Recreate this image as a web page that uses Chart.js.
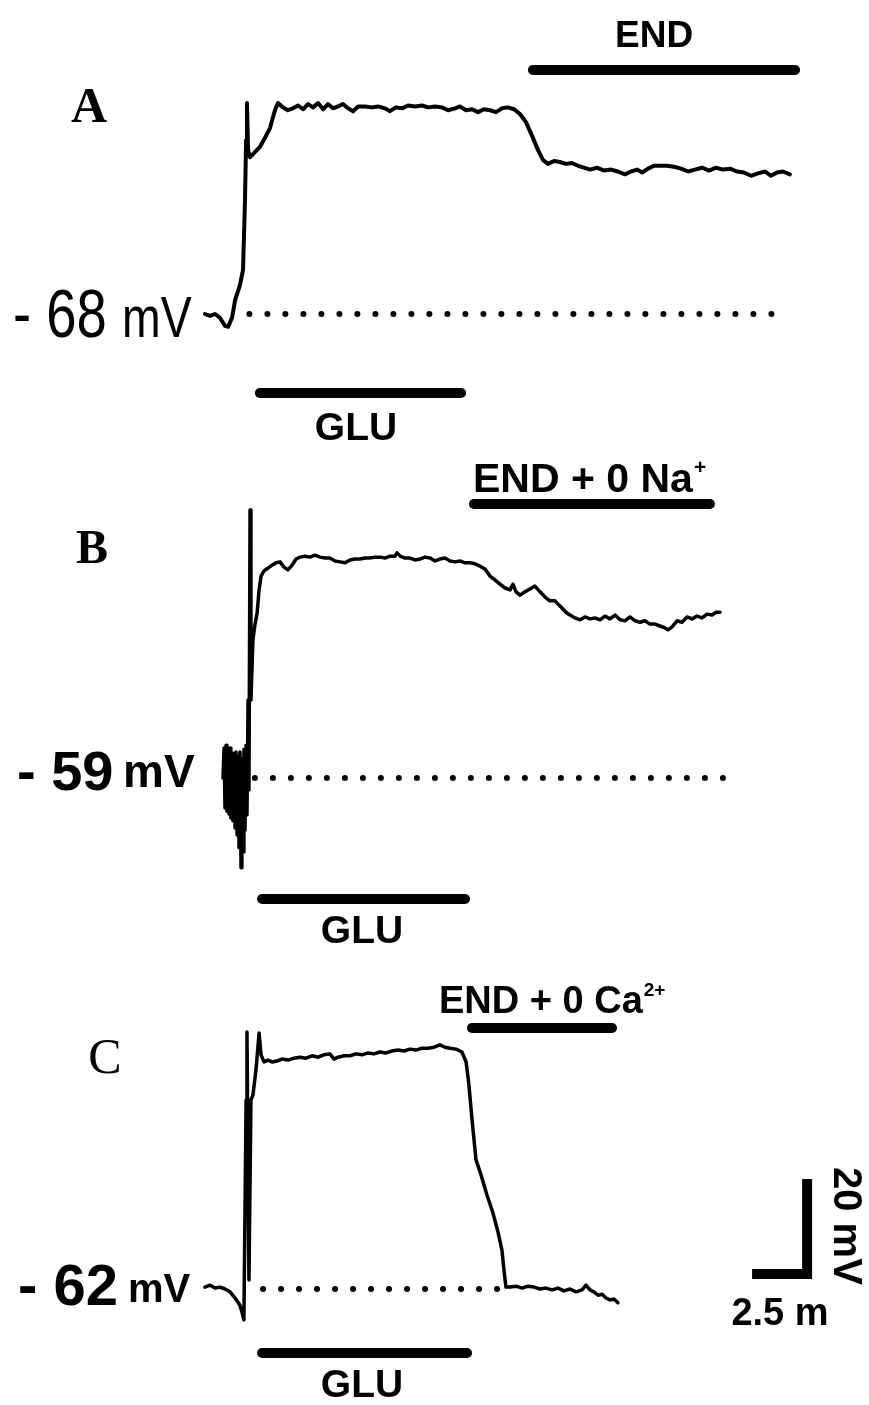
<!DOCTYPE html>
<html>
<head>
<meta charset="utf-8">
<script src="https://cdn.jsdelivr.net/npm/chart.js@4.4.1/dist/chart.umd.min.js"></script>
<style>
  body { margin: 0; background: #fff; }
  #fig { position: relative; width: 869px; height: 1405px; background: #fff; }
  #fig canvas { position: absolute; left: 0; }
</style>
</head>
<body>
<div id="fig">
  <canvas id="panel-a" width="869" height="460" style="top:0"></canvas>
  <canvas id="panel-b" width="869" height="490" style="top:460px"></canvas>
  <canvas id="panel-c" width="869" height="455" style="top:950px"></canvas>
</div>
<script>
// membrane potential traces, time in min from glutamate onset, potential in mV

const timeA = [
  -2.32, -2.09, -1.86, -1.64, -1.41, -1.27, -1.09, -0.95, -0.73, -0.59,
  -0.50, -0.45, -0.41, -0.36, -0.27, -0.05, 0.18, 0.41, 0.64, 0.86,
  1.00, 1.23, 1.45, 1.68, 1.91, 2.14, 2.36, 2.59, 2.82, 3.05,
  3.27, 3.50, 3.73, 3.95, 4.18, 4.41, 4.64, 4.95, 5.27, 5.55,
  5.86, 6.09, 6.36, 6.64, 6.91, 7.23, 7.55, 7.82, 8.14, 8.45,
  8.73, 9.05, 9.27, 9.55, 9.82, 10.09, 10.36, 10.64, 10.91, 11.18,
  11.45, 11.73, 12.00, 12.27, 12.55, 12.82, 13.05, 13.27, 13.55, 13.82,
  14.09, 14.36, 14.64, 14.91, 15.18, 15.50, 15.82, 16.14, 16.45, 16.77,
  17.05, 17.32, 17.55, 17.82, 18.09, 18.36, 18.68, 19.00, 19.32, 19.64,
  19.95, 20.27, 20.59, 20.91, 21.23, 21.55, 21.86, 22.18, 22.50, 22.82,
  23.14, 23.41, 23.68, 23.95, 24.27];
const vmA = [
  -68.0, -68.4, -68.0, -68.8, -70.5, -70.7, -68.8, -65.1, -61.9, -58.7,
  -44.0, -31.4, -23.6, -33.5, -35.0, -33.9, -32.8, -30.9, -28.8, -25.1,
  -23.6, -24.5, -25.1, -24.7, -24.1, -24.9, -23.8, -24.5, -23.6, -24.9,
  -23.8, -24.7, -24.3, -23.8, -24.7, -25.3, -24.3, -24.3, -24.5, -24.3,
  -24.7, -25.3, -24.5, -24.7, -24.1, -24.3, -24.1, -24.5, -24.3, -24.5,
  -25.1, -24.7, -24.3, -25.1, -24.9, -25.5, -24.9, -25.1, -25.5, -24.7,
  -24.5, -24.9, -25.9, -27.6, -30.5, -33.5, -35.6, -36.4, -35.8, -36.0,
  -36.4, -36.2, -36.8, -37.2, -37.6, -37.2, -37.8, -37.6, -38.0, -38.6,
  -38.0, -37.6, -38.2, -37.4, -36.8, -36.8, -36.8, -37.0, -37.4, -38.0,
  -37.6, -37.2, -37.8, -37.2, -37.6, -37.4, -38.0, -38.2, -38.9, -38.4,
  -38.0, -38.9, -38.2, -38.0, -38.6];

const timeB = [
  -1.50, -1.45, -1.41, -1.36, -1.32, -1.27, -1.23, -1.18, -1.14, -1.09,
  -1.05, -1.00, -0.95, -0.91, -0.86, -0.82, -0.77, -0.73, -0.68, -0.64,
  -0.59, -0.55, -0.50, -0.45, -0.41, -0.36, -0.32,
  -0.27, -0.23, -0.14, -0.05, 0.05, 0.14, 0.23, 0.36, 0.55,
  0.73, 0.91, 1.09, 1.27, 1.45, 1.64, 1.82, 2.00, 2.23, 2.45,
  2.68, 2.91, 3.14, 3.36, 3.59, 3.82, 4.05, 4.27, 4.50, 4.73,
  4.95, 5.18, 5.41, 5.64, 5.86, 6.09, 6.32, 6.41, 6.55, 6.77,
  7.00, 7.23, 7.45, 7.68, 7.91, 8.14, 8.36, 8.59, 8.82, 9.05,
  9.27, 9.50, 9.73, 9.95, 10.18, 10.41, 10.64, 10.86, 11.09, 11.32,
  11.55, 11.68, 11.82, 12.00, 12.23, 12.45, 12.68, 12.91, 13.14, 13.36,
  13.59, 13.73, 13.91, 14.09, 14.27, 14.50, 14.73, 14.95, 15.18, 15.41,
  15.64, 15.86, 16.09, 16.32, 16.55, 16.77, 17.00, 17.23, 17.45, 17.68,
  17.91, 18.14, 18.36, 18.59, 18.73, 18.91, 19.14, 19.36, 19.59, 19.82,
  20.05, 20.27, 20.50, 20.73, 20.91, 21.09];
const vmB = [
  -59.0, -52.7, -65.3, -52.1, -66.0, -53.1, -66.6, -52.7, -67.4, -54.0,
  -68.0, -53.8, -69.5, -53.5, -71.0, -54.4, -73.7, -53.5, -77.9, -55.0,
  -74.6, -53.0, -70.0, -52.1, -66.8, -42.6, -61.5,
  -2.6, -42.6, -29.9, -26.8, -24.3, -19.4, -16.5, -15.4, -14.8,
  -14.2, -13.7, -13.5, -14.6, -15.2, -14.2, -12.9, -12.5, -12.3, -12.5,
  -12.1, -12.5, -12.7, -12.7, -13.3, -13.5, -13.7, -13.1, -12.9, -12.9,
  -12.7, -12.7, -12.5, -12.5, -12.7, -12.3, -12.3, -11.6, -12.3, -12.7,
  -12.7, -13.1, -12.9, -12.5, -12.7, -13.3, -12.9, -12.7, -13.3, -13.5,
  -13.3, -13.7, -13.7, -13.9, -14.4, -15.0, -16.5, -17.3, -18.2, -19.0,
  -19.4, -18.2, -19.8, -20.5, -19.8, -19.2, -18.6, -19.8, -20.9, -21.7,
  -21.7, -22.4, -23.2, -24.1, -24.7, -25.3, -25.7, -25.1, -25.5, -25.3,
  -25.7, -24.9, -25.5, -24.7, -25.7, -25.9, -25.1, -25.9, -26.2, -25.9,
  -26.6, -26.6, -27.0, -27.4, -27.8, -27.2, -25.9, -26.2, -25.1, -25.5,
  -24.9, -25.3, -24.5, -24.7, -24.1, -24.1];

const timeC = [
  -2.32, -2.09, -1.86, -1.64, -1.41, -1.18, -0.95, -0.73, -0.64, -0.55,
  -0.45, -0.41, -0.32, -0.23, -0.14, 0.00, 0.14, 0.23, 0.36, 0.55,
  0.73, 0.95, 1.18, 1.45, 1.73, 2.00, 2.27, 2.55, 2.82, 3.09,
  3.36, 3.55, 3.73, 4.00, 4.27, 4.55, 4.82, 5.09, 5.36, 5.64,
  5.91, 6.18, 6.45, 6.73, 7.00, 7.27, 7.55, 7.82, 8.09, 8.36,
  8.59, 8.82, 9.09, 9.36, 9.55, 9.68, 9.82, 10.00, 10.23, 10.50,
  10.77, 11.00, 11.18, 11.27, 11.36, 11.55, 11.82, 12.09, 12.36, 12.64,
  12.91, 13.18, 13.45, 13.73, 14.00, 14.27, 14.55, 14.82, 15.00, 15.18,
  15.36, 15.55, 15.73, 15.91, 16.09, 16.27, 16.45];
const vmC = [
  -61.6, -61.2, -61.8, -61.6, -62.0, -62.6, -63.9, -65.4, -66.8, -68.5,
  -22.2, -7.9, -60.1, -22.2, -21.2, -15.9, -8.1, -12.7, -14.2, -13.8,
  -14.2, -14.0, -13.6, -13.8, -13.4, -13.2, -13.4, -12.9, -13.2, -12.7,
  -12.5, -13.6, -13.2, -12.9, -12.9, -12.5, -12.7, -12.3, -12.5, -12.1,
  -12.3, -11.9, -11.7, -11.9, -11.5, -11.7, -11.3, -11.3, -11.1, -10.6,
  -11.1, -11.3, -11.5, -12.1, -14.2, -19.1, -26.4, -34.8, -38.0, -42.2,
  -46.0, -50.0, -53.8, -58.0, -61.6, -61.6, -61.4, -61.8, -61.4, -61.6,
  -62.0, -61.8, -62.2, -61.8, -62.4, -62.0, -62.6, -62.2, -61.2, -62.2,
  -62.6, -63.3, -63.1, -63.9, -64.3, -64.1, -64.9];

// resting potentials (dotted lines) and the time span each dotted line covers
const restMv = [-68, -59, -62];
const restSpans = [[-0.3, 24.2], [-0.05, 21.5], [0.32, 11.2]];

// drug applications, [start, end] in min
const gluSpans = [[-0.05, 9.55], [0.05, 9.73], [0.05, 9.82]];
const endSpans = [[12.36, 24.73], [9.68, 20.86], [9.59, 16.41]];
const endLabels = ['END', 'END + 0 Na', 'END + 0 Ca'];
const endSups = ['', '+', '2+'];
const panelNames = ['A', 'B', 'C'];

// calibration bar: 2.5 min, 20 mV
const scaleMin = 2.5;
const scaleMv = 20;

// ---- layout (pixels) ----
const pxPerMin = 22;
const pxPerMv = 4.75;
const originPx = 256;
const figWidth = 869;

const layout = [
  { id: 'panel-a', height: 460, restY: 314, lineWidth: 4,
    letter: { x: 89, y: 122, font: 'bold 50px "Liberation Serif"' },
    restText: { x: 13, y: 337, font: '68px "Liberation Sans"', sx: 0.8 },
    unitText: { x: 122, y: 337, font: '58px "Liberation Sans"', sx: 0.8 },
    endBarY: 70, endText: { x: 615, y: 47, size: 37 },
    gluBarY: 393, gluText: { x: 356, y: 440 } },
  { id: 'panel-b', height: 490, restY: 318, lineWidth: 3.5,
    letter: { x: 92, y: 103, font: 'bold 48px "Liberation Serif"' },
    restText: { x: 17, y: 330, font: 'bold 56px "Liberation Sans"', sx: 1 },
    unitText: { x: 123, y: 327, font: 'bold 46px "Liberation Sans"', sx: 1 },
    endBarY: 44, endText: { x: 473, y: 32, size: 41 },
    gluBarY: 439, gluText: { x: 362, y: 483 } },
  { id: 'panel-c', height: 455, restY: 339, lineWidth: 3.5,
    letter: { x: 105, y: 123, font: '50px "Liberation Serif"' },
    restText: { x: 18, y: 355, font: 'bold 58px "Liberation Sans"', sx: 1 },
    unitText: { x: 128, y: 352, font: 'bold 40px "Liberation Sans"', sx: 1 },
    endBarY: 78, endText: { x: 439, y: 63, size: 38 },
    gluBarY: 403, gluText: { x: 362, y: 447 },
    scale: { t: 25.05, mv: -58.84, minText: { x: 780, y: 375 }, mvText: { x: 845, y: 217 } } }
];

function text(ctx, str, x, y, font, align, sx) {
  ctx.save();
  ctx.font = font;
  ctx.textAlign = align || 'left';
  ctx.textBaseline = 'alphabetic';
  ctx.translate(x, y);
  ctx.scale(sx || 1, 1);
  ctx.fillText(str, 0, 0);
  ctx.restore();
}

function bar(ctx, xs, span, y) {
  const w = 10;
  ctx.save();
  ctx.lineWidth = w;
  ctx.lineCap = 'round';
  ctx.beginPath();
  ctx.moveTo(xs.getPixelForValue(span[0]) + w / 2, y);
  ctx.lineTo(xs.getPixelForValue(span[1]) - w / 2, y);
  ctx.stroke();
  ctx.restore();
}

function decor(i) {
  const L = layout[i];
  return {
    id: 'decor' + i,
    afterDatasetsDraw(chart) {
      const ctx = chart.ctx;
      const xs = chart.scales.x;
      ctx.save();
      ctx.fillStyle = '#000';
      ctx.strokeStyle = '#000';

      text(ctx, panelNames[i], L.letter.x, L.letter.y, L.letter.font, 'center');

      const rest = restMv[i];
      text(ctx, '- ' + Math.abs(rest), L.restText.x, L.restText.y, L.restText.font, 'left', L.restText.sx);
      text(ctx, 'mV', L.unitText.x, L.unitText.y, L.unitText.font, 'left', L.unitText.sx);

      bar(ctx, xs, gluSpans[i], L.gluBarY);
      text(ctx, 'GLU', L.gluText.x, L.gluText.y, 'bold 39px "Liberation Sans"', 'center');

      bar(ctx, xs, endSpans[i], L.endBarY);
      const f = 'bold ' + L.endText.size + 'px "Liberation Sans"';
      text(ctx, endLabels[i], L.endText.x, L.endText.y, f, 'left');
      if (endSups[i]) {
        ctx.font = f;
        const w = ctx.measureText(endLabels[i]).width;
        const s = Math.round(L.endText.size * 0.5);
        text(ctx, endSups[i], L.endText.x + w + 1, L.endText.y - L.endText.size * 0.45,
             'bold ' + s + 'px "Liberation Sans"', 'left');
      }

      if (L.scale) {
        text(ctx, scaleMin + ' m', L.scale.minText.x, L.scale.minText.y, 'bold 38px "Liberation Sans"', 'center');
        ctx.save();
        ctx.translate(L.scale.mvText.x, L.scale.mvText.y);
        ctx.rotate(Math.PI / 2);
        ctx.font = 'bold 40px "Liberation Sans"';
        ctx.textBaseline = 'middle';
        ctx.textAlign = 'left';
        ctx.fillText(scaleMv + ' mV', 0, 0);
        ctx.restore();
      }
      ctx.restore();
    }
  };
}

const traces = [[timeA, vmA], [timeB, vmB], [timeC, vmC]];

layout.forEach((L, i) => {
  const [ts, vs] = traces[i];
  const yMax = restMv[i] + L.restY / pxPerMv;
  const datasets = [
    {
      data: restSpans[i].map(t => ({ x: t, y: restMv[i] })),
      borderColor: '#000',
      borderWidth: 6,
      borderDash: [0, 18],
      borderCapStyle: 'round'
    },
    {
      data: ts.map((t, k) => ({ x: t, y: vs[k] })),
      borderColor: '#000',
      borderWidth: L.lineWidth,
      borderJoinStyle: 'round',
      borderCapStyle: 'round'
    }
  ];
  if (L.scale) {
    datasets.push({
      data: [
        { x: L.scale.t - scaleMin, y: L.scale.mv },
        { x: L.scale.t, y: L.scale.mv },
        { x: L.scale.t, y: L.scale.mv + scaleMv }
      ],
      borderColor: '#000',
      borderWidth: 10,
      borderJoinStyle: 'miter',
      borderCapStyle: 'butt'
    });
  }

  new Chart(document.getElementById(L.id), {
    type: 'line',
    data: { datasets },
    options: {
      responsive: false,
      animation: false,
      events: [],
      layout: { padding: 0 },
      elements: { point: { radius: 0, hoverRadius: 0 }, line: { tension: 0, fill: false } },
      scales: {
        x: { type: 'linear', display: false,
             min: -originPx / pxPerMin, max: (figWidth - originPx) / pxPerMin },
        y: { type: 'linear', display: false,
             max: yMax, min: yMax - L.height / pxPerMv }
      },
      plugins: { legend: { display: false }, tooltip: { enabled: false } }
    },
    plugins: [decor(i)]
  });
});
</script>
</body>
</html>
